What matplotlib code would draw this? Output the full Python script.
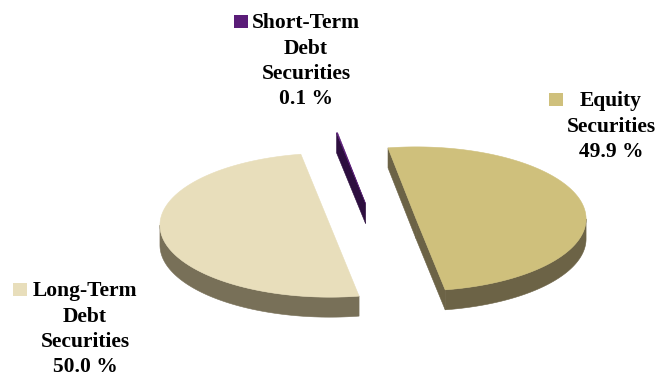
import numpy as np
import matplotlib.pyplot as plt
from matplotlib.patches import Polygon, Rectangle

# portfolio breakdown
names = ["Equity", "Long-Term", "Short-Term"]
label_lines = [
    ["Equity", "Securities"],
    ["Long-Term", "Debt", "Securities"],
    ["Short-Term", "Debt", "Securities"],
]
shares = [49.9, 50.0, 0.1]

top_colors = ["#CFC07C", "#E8DEBB", "#5A1C78"]
side_colors = ["#6C6346", "#787058", "#2D0E3F"]

# pie geometry (pixel space)
cx, cy = 373, 222
rx, ry = 170, 72
depth = 20
explode = 0.257
start = 99.5

# text layout: centre x, first baseline, marker x
label_pos = [(611, 106, 549), (85, 296, 13), (306, 28, 234)]
line_step = 25.5

fig = plt.figure(figsize=(6.56, 3.78), dpi=100)
ax = fig.add_axes([0, 0, 1, 1])
ax.set_xlim(0, 656)
ax.set_ylim(378, 0)
ax.axis("off")


def pt(ox, oy, ang, dz=0):
    a = np.radians(ang)
    return ox + rx * np.cos(a), oy - ry * np.sin(a) + dz


def poly(points, color, z):
    ax.add_patch(Polygon(points, closed=True, facecolor=color, edgecolor=color,
                         lw=0.4, zorder=z))


total = sum(shares)
bounds = []
theta = start
for s in shares:
    sweep = 360 * s / total
    bounds.append((theta, theta - sweep))
    theta -= sweep

# back slices first
order = sorted(range(len(shares)), key=lambda i: np.sin(np.radians(sum(bounds[i]) / 2)), reverse=True)

for z, i in enumerate(order):
    t0, t1 = bounds[i]
    mid = np.radians((t0 + t1) / 2)
    ox = cx + explode * rx * np.cos(mid)
    oy = cy - explode * ry * np.sin(mid)
    base = 10 * z

    # curved outer wall, front half only
    lo, hi = t1, t0
    segs = []
    for k in range(-1, 2):
        a0, a1 = max(lo, -180 + 360 * k), min(hi, 0 + 360 * k)
        if a1 > a0:
            segs.append((a0, a1))
    for a0, a1 in segs:
        angs = np.linspace(a0, a1, 80)
        topx, topy = pt(ox, oy, angs)
        botx, boty = pt(ox, oy, angs[::-1], depth)
        pts = np.column_stack([np.r_[topx, botx], np.r_[topy, boty]])
        poly(pts, side_colors[i], base + 1)

    # radial cut faces facing the viewer
    for ang, normal in ((t0, t0 + 90), (t1, t1 - 90)):
        if np.sin(np.radians(normal)) < 0:
            rxp, ryp = pt(ox, oy, ang)
            pts = [(ox, oy), (rxp, ryp), (rxp, ryp + depth), (ox, oy + depth)]
            poly(pts, side_colors[i], base + 2)

    # top face
    angs = np.linspace(t0, t1, max(int(abs(t0 - t1)), 2) + 1)
    topx, topy = pt(ox, oy, angs)
    pts = np.column_stack([np.r_[ox, topx], np.r_[oy, topy]])
    poly(pts, top_colors[i], base + 3)

# labels with colour squares
for i in range(len(names)):
    x, y0, mx = label_pos[i]
    lines = label_lines[i] + [f"{shares[i]:.1f} %"]
    for j, line in enumerate(lines):
        ax.text(x, y0 + j * line_step, line, ha="center", va="baseline",
                fontsize=15.5, fontweight="bold", family="Liberation Serif",
                color="black", zorder=50)
    ax.add_patch(Rectangle((mx, y0 - 13), 14, 13, facecolor=top_colors[i],
                           edgecolor="none", zorder=50))

fig.savefig("out.png", dpi=100, facecolor="white")
